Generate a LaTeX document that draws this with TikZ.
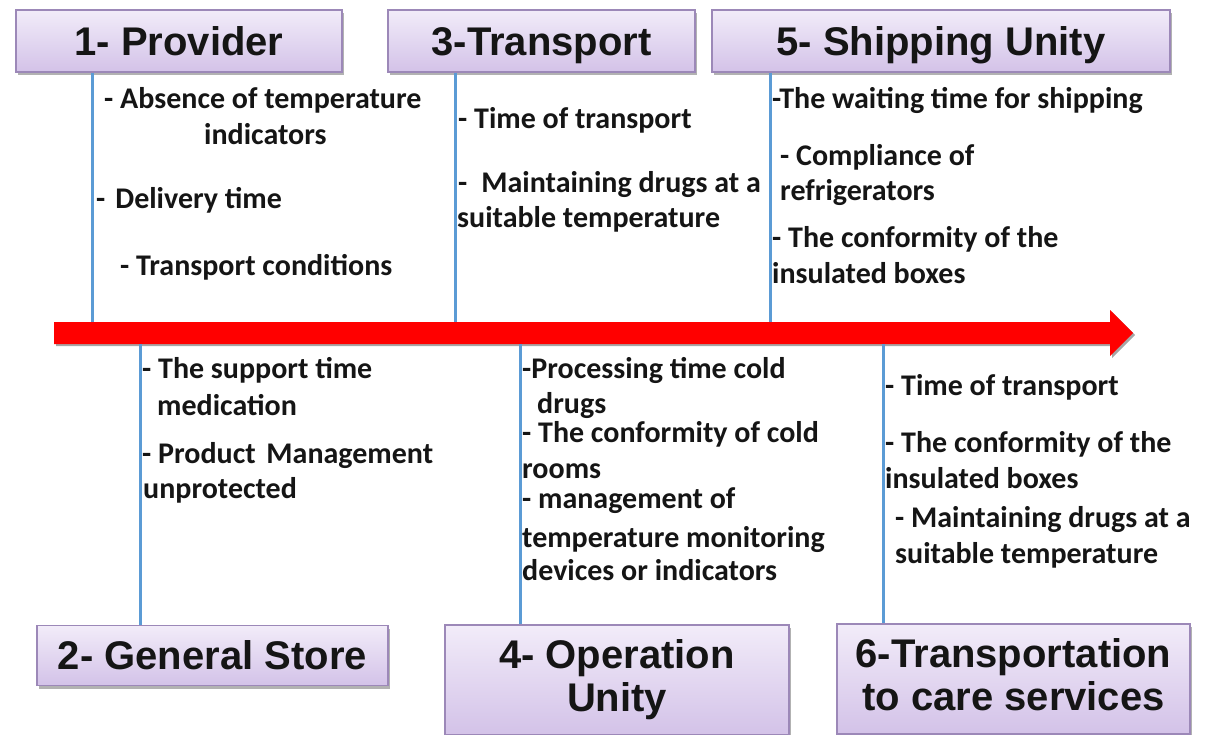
\documentclass[tikz,border=0pt]{standalone}
\usepackage{fontspec}
\setmainfont{Carlito}
\newfontfamily\titlefont{Liberation Sans}
\usetikzlibrary{shadows}
\definecolor{boxtop}{HTML}{F2ECF9}
\definecolor{boxbot}{HTML}{D3C2E8}
\definecolor{boxdraw}{HTML}{9C88B8}
\definecolor{vline}{HTML}{5B9BD5}
\definecolor{arrowred}{HTML}{FF0000}
\definecolor{txt}{HTML}{151515}
\newcommand{\lnph}{\vphantom{Tgy}}
\tikzset{
  stagebox/.style={draw=boxdraw, line width=1.5pt, top color=boxtop, bottom color=boxbot,
    drop shadow={shadow xshift=2pt, shadow yshift=-3pt, opacity=0.3, fill=black},
    inner sep=0pt, align=center, text=txt,
    font=\titlefont\fontsize{40}{43}\selectfont\bfseries},
  oneline/.style={text height=28pt, text depth=0pt},
  item/.style={anchor=base west, inner sep=0pt, text=txt,
    font=\fontsize{30}{32}\selectfont\bfseries},
  tick/.style={draw=vline, line width=3pt},
}
\begin{document}
\begin{tikzpicture}[x=1pt,y=-1pt]
\useasboundingbox (0,0) rectangle (1220,734);
\fill[white] (0,0) rectangle (1220,734);

% stage boxes
\node[stagebox, oneline, minimum width=326pt, minimum height=62pt] (b1) at (179,41) {1- Provider};
\node[stagebox, oneline, minimum width=307pt, minimum height=62pt] (b3) at (541.5,41) {3-Transport};
\node[stagebox, oneline, minimum width=458pt, minimum height=62pt] (b5) at (941,41) {5- Shipping Unity};
\node[stagebox, oneline, minimum width=351pt, minimum height=60pt] (b2) at (212.5,655.5) {2- General Store};
\node[stagebox, minimum width=344pt, minimum height=110pt] (b4) at (617,680) {\lnph 4- Operation\\\lnph Unity};
\node[stagebox, minimum width=353pt, minimum height=110pt] (b6) at (1013.5,679) {\lnph 6-Transportation\\\lnph to care services};

% main arrow
\fill[arrowred, drop shadow={shadow xshift=2pt, shadow yshift=-2pt, opacity=0.35, fill=black}]
  (54,322) -- (1110,322) -- (1110,310) -- (1133,333) -- (1110,356) -- (1110,344) -- (54,344) -- cycle;
\coordinate (a1) at (92,322);
\coordinate (a3) at (455,322);
\coordinate (a5) at (770,322);
\coordinate (a2) at (140,344);
\coordinate (a4) at (520,344);
\coordinate (a6) at (883,344);

% connectors
\draw[tick] (b1.south -| a1) -- (a1);
\draw[tick] (b3.south -| a3) -- (a3);
\draw[tick] (b5.south -| a5) -- (a5);
\draw[tick] (a2) -- (b2.north -| a2);
\draw[tick] (a4) -- (b4.north -| a4);
\draw[tick] (a6) -- (b6.north -| a6);

% texts: provider
\node[item] (t1a) at (104,108) {- Absence of temperature};
\node[item] (t1b) at (204,144) {indicators};
\node[item] (t1c) at (96,208) {-\hspace{10pt}Delivery time};
\node[item] (t1d) at (120,275) {- Transport conditions};
% transport
\node[item] (t3a) at (458,128) {- Time of transport};
\node[item] (t3b) at (458,192) {-\hspace{14pt}Maintaining drugs at a};
\node[item] (t3c) at (457,227) {suitable temperature};
% shipping unity
\node[item] (t5a) at (772,108) {-The waiting time for shipping};
\node[item] (t5b) at (780,165) {- Compliance of};
\node[item] (t5c) at (780,200) {refrigerators};
\node[item] (t5d) at (772,247) {- The conformity of the};
\node[item] (t5e) at (772,283) {insulated boxes};
% general store
\node[item] (t2a) at (142,378) {- The support time};
\node[item] (t2b) at (157,415) {medication};
\node[item] (t2c) at (142,463) {- Product\hspace{4pt} Management};
\node[item] (t2d) at (143,498) {unprotected};
% operation unity
\node[item] (t4a) at (522,378) {-Processing time cold};
\node[item] (t4b) at (537,413) {drugs};
\node[item] (t4c) at (522,442) {- The conformity of cold};
\node[item] (t4d) at (522,478) {rooms};
\node[item] (t4e) at (522,508) {- management of};
\node[item] (t4f) at (522,547) {temperature monitoring};
\node[item] (t4g) at (522,580) {devices or indicators};
% transportation to care services
\node[item] (t6a) at (885,395) {- Time of transport};
\node[item] (t6b) at (885,452) {- The conformity of the};
\node[item] (t6c) at (885,488) {insulated boxes};
\node[item] (t6d) at (895,527) {- Maintaining drugs at a};
\node[item] (t6e) at (895,563) {suitable temperature};
\end{tikzpicture}
\end{document}
